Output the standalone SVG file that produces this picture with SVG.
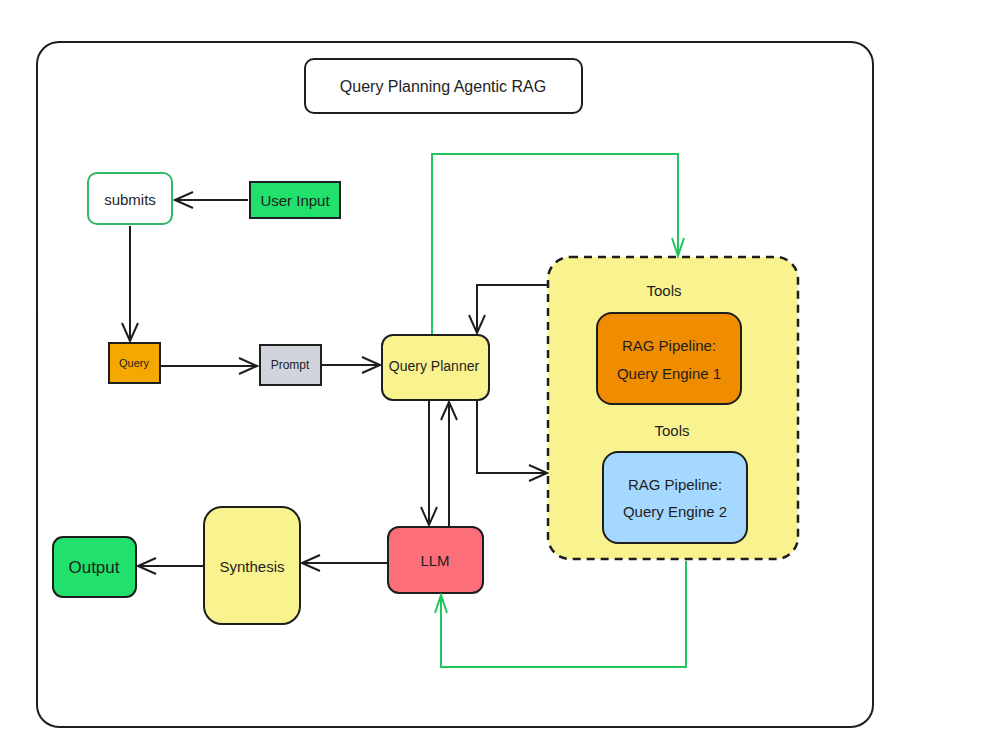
<svg xmlns="http://www.w3.org/2000/svg" width="1000" height="750" viewBox="0 0 1000 750">
<defs>
<style>
.t{font-family:"Liberation Sans","Noto Sans",sans-serif;fill:#1e1e1e;text-anchor:middle;dominant-baseline:central}
.box{stroke:#1e1e1e;stroke-width:2}
.c{fill:none;stroke:#1e1e1e;stroke-width:2}
.g{fill:none;stroke:#22c55e;stroke-width:2}
</style>
<marker id="ab" viewBox="0 0 24 24" refX="22" refY="12" markerWidth="24" markerHeight="24" markerUnits="userSpaceOnUse" orient="auto">
<path d="M4 4 L22 12 L4 20" fill="none" stroke="#1e1e1e" stroke-width="2"/>
</marker>
<marker id="ag" viewBox="0 0 24 24" refX="22" refY="12" markerWidth="24" markerHeight="24" markerUnits="userSpaceOnUse" orient="auto">
<path d="M4 6 L22 12 L4 18" fill="none" stroke="#22c55e" stroke-width="2"/>
</marker>
</defs>
<rect width="1000" height="750" fill="#ffffff"/>
<g id="frame"><rect x="37" y="42" width="836" height="685" rx="22" fill="#ffffff" stroke="#1e1e1e" stroke-width="2"/></g>
<g id="title"><rect x="305" y="59" width="277" height="54" rx="9" fill="#ffffff" class="box"/><text x="443" y="86" class="t" font-size="16">Query Planning Agentic RAG</text></g>
<g id="tools"><rect x="548" y="257" width="250" height="302" rx="22" fill="#f8f28f" stroke="#1e1e1e" stroke-width="2.5" stroke-dasharray="8 6"/>
<text x="664" y="290" class="t" font-size="15">Tools</text><text x="672" y="430" class="t" font-size="15">Tools</text></g>
<g id="rag1"><rect x="597" y="313" width="144" height="91" rx="15" fill="#f08c00" class="box"/><text x="669" y="345" class="t" font-size="15">RAG Pipeline:</text><text x="669" y="373" class="t" font-size="15">Query Engine 1</text></g>
<g id="rag2"><rect x="603" y="452" width="144" height="91" rx="15" fill="#a5d8ff" class="box"/><text x="675" y="484" class="t" font-size="15">RAG Pipeline:</text><text x="675" y="511" class="t" font-size="15">Query Engine 2</text></g>
<g id="submits"><rect x="88" y="173" width="84" height="51" rx="9" fill="#ffffff" stroke="#2fb865" stroke-width="2"/><text x="130" y="199" class="t" font-size="15">submits</text></g>
<g id="userinput"><rect x="250" y="182" width="90" height="36" fill="#22e06c" class="box"/><text x="295" y="200" class="t" font-size="15">User Input</text></g>
<g id="query"><rect x="109" y="343" width="51" height="40" fill="#f5a800" class="box"/><text x="134" y="363" class="t" font-size="11">Query</text></g>
<g id="prompt"><rect x="260" y="345" width="61" height="40" fill="#d1d5db" class="box"/><text x="290" y="365" class="t" font-size="12">Prompt</text></g>
<g id="planner"><rect x="382" y="335" width="107" height="65" rx="11" fill="#f8f28f" class="box"/><text x="434" y="366" class="t" font-size="14">Query Planner</text></g>
<g id="llm"><rect x="388" y="527" width="95" height="66" rx="11" fill="#fc6f78" class="box"/><text x="435" y="560" class="t" font-size="15">LLM</text></g>
<g id="synthesis"><rect x="204" y="507" width="96" height="117" rx="18" fill="#f8f28f" class="box"/><text x="252" y="566" class="t" font-size="15">Synthesis</text></g>
<g id="output"><rect x="53" y="537" width="83" height="60" rx="10" fill="#22e06c" class="box"/><text x="94" y="567" class="t" font-size="17">Output</text></g>
<g id="connectors">
<path class="c" d="M248 200 L175 200" marker-end="url(#ab)"/>
<path class="c" d="M130 226 L130 341" marker-end="url(#ab)"/>
<path class="c" d="M161 366 L257 366" marker-end="url(#ab)"/>
<path class="c" d="M322 365 L380 365" marker-end="url(#ab)"/>
<path class="c" d="M548 285 L477 285 L477 333" marker-end="url(#ab)"/>
<path class="c" d="M477 401 L477 473 L547 473" marker-end="url(#ab)"/>
<path class="c" d="M429 401 L429 525" marker-end="url(#ab)"/>
<path class="c" d="M449 527 L449 402" marker-end="url(#ab)"/>
<path class="c" d="M388 563 L302 563" marker-end="url(#ab)"/>
<path class="c" d="M204 566 L138 566" marker-end="url(#ab)"/>
<path class="g" d="M432 334 L432 154 L678 154 L678 256" marker-end="url(#ag)"/>
<path class="g" d="M686 561 L686 667 L441 667 L441 595" marker-end="url(#ag)"/>
</g>
</svg>
